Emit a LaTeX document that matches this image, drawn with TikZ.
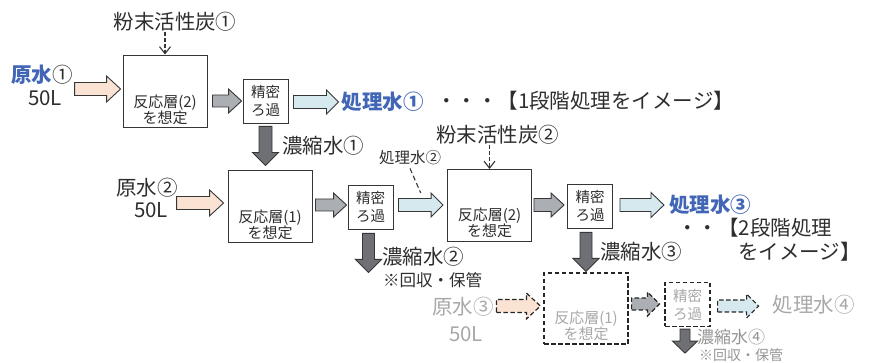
\documentclass[tikz,border=0pt]{standalone}
\usepackage{fontspec}
\setmainfont{Noto Sans CJK JP}
\usetikzlibrary{calc,arrows.meta}
\definecolor{txt}{HTML}{2E2E2E}
\definecolor{bluetxt}{HTML}{4266B6}
\definecolor{graytxt}{HTML}{A8A8A8}
\definecolor{graytxtb}{HTML}{959595}
\definecolor{peach}{HTML}{FBE3D4}
\definecolor{midgray}{HTML}{ABAEB3}
\definecolor{lblue}{HTML}{D5E9EE}
\definecolor{dkgray}{HTML}{6F7075}
\definecolor{edge}{HTML}{363636}
\tikzset{
  bigbox/.style={draw=edge, line width=0.9pt, minimum width=84pt, minimum height=72pt, inner sep=0pt, fill=white},
  filtbox/.style={draw=edge, line width=0.9pt, minimum width=45pt, minimum height=44pt, inner sep=0pt, align=center, font=\fontsize{14.5}{18}\selectfont, text=txt, fill=white},
  boxtext/.style={align=center, font=\fontsize{15}{16}\selectfont, text=txt, inner sep=0pt},
  lbl/.style={font=\fontsize{20.5}{24}\selectfont, text=txt, inner sep=0pt},
  bluelbl/.style={font=\fontsize{20.5}{24}\selectfont\bfseries, text=bluetxt, inner sep=0pt},
  graylbl/.style={font=\fontsize{20.5}{24}\selectfont, text=graytxt, inner sep=0pt},
  dsh/.style={dash pattern=on 4.5pt off 2.5pt, line width=1.2pt, draw=black!85},
  arrline/.style={draw=edge, line width=0.9pt, line join=miter},
  harrow/.style n args={4}{arrline, fill=#4, to path={($(\tikztostart)+(0,#1)$) -- ($(\tikztotarget)+(-#3,#1)$) -- ($(\tikztotarget)+(-#3,#2)$) -- (\tikztotarget) -- ($(\tikztotarget)+(-#3,-#2)$) -- ($(\tikztotarget)+(-#3,-#1)$) -- ($(\tikztostart)+(0,-#1)$) -- cycle}},
  varrow/.style n args={4}{arrline, fill=#4, to path={($(\tikztostart)+(#1,0)$) -- ($(\tikztotarget)+(#1,-#3)$) -- ($(\tikztotarget)+(#2,-#3)$) -- (\tikztotarget) -- ($(\tikztotarget)+(-#2,-#3)$) -- ($(\tikztotarget)+(-#1,-#3)$) -- ($(\tikztostart)+(-#1,0)$) -- cycle}},
  pacarrow/.style={draw=edge, line width=1.1pt, dash pattern=on 4pt off 2pt, -{Straight Barb[length=7pt,width=11pt,line width=1.1pt]}},
}
\begin{document}
\begin{tikzpicture}[x=1pt,y=-1pt]
\useasboundingbox (0,0) rectangle (871,363);

% ---------- row 1 ----------
\node[lbl] (pac1) at (175,22) {粉末活性炭①};
\node[bigbox] (r1) at (165,91) {};
\node[boxtext] (r1t) at (165,110) {反応層(2)\\を想定};
\node[filtbox] (f1) at (265.5,101) {精密\\ろ過};
\node[bluelbl] (raw1) at (42,75) {原水{\mdseries\color{txt}①}};
\node[lbl] (vol1) at (45,98) {50L};
\draw[pacarrow] (pac1.south -| r1.north) -- (r1.north);

\coordinate (o1e) at ($(r1.west)+(-2,-2)$);
\coordinate (o1s) at ($(o1e)+(-46,0)$);
\draw[harrow={6.5}{13}{14}{peach}] (o1s) to (o1e);

\coordinate (g1s) at ($(r1.east |- f1.west)+(5,0)$);
\coordinate (g1e) at ($(f1.west)+(-1,0)$);
\draw[harrow={6}{12}{13}{midgray}] (g1s) to (g1e);

\coordinate (b1s) at ($(f1.east)+(5,1)$);
\coordinate (b1e) at ($(b1s)+(45,0)$);
\draw[harrow={6.5}{12}{12}{lblue}] (b1s) to (b1e);
\node[bluelbl, anchor=west] (out1) at ($(b1e)+(3,0)$) {処理水①};
\node[lbl, anchor=west] (note1) at ($(out1.east)+(12,-1)$) {・・・【1段階処理をイメージ】};

% ---------- row 2 ----------
\node[bigbox] (r2) at (270,206) {};
\node[boxtext] (r2t) at (270,225) {反応層(1)\\を想定};
\node[filtbox] (f2) at (370.5,207) {精密\\ろ過};
\node[lbl] (raw2) at (147,188) {原水②};
\node[lbl] (vol2) at (151,210) {50L};

\coordinate (d1s) at ($(f1.south)+(0,3)$);
\coordinate (d1e) at ($(f1.south |- r2.north)+(0,-4)$);
\draw[varrow={6.5}{13}{13}{dkgray}] (d1s) to (d1e);
\node[lbl, anchor=west] (conc1) at (282,146) {濃縮水①};

\coordinate (o2e) at ($(r2.west)+(-4,-3)$);
\coordinate (o2s) at ($(o2e)+(-47,0)$);
\draw[harrow={6.5}{13}{14}{peach}] (o2s) to (o2e);

\coordinate (g2s) at ($(r2.east)+(3,-1)$);
\coordinate (g2e) at ($(f2.west)+(-1,-2)$);
\draw[harrow={6}{12}{13}{midgray}] (g2s) to (g2e);

\node[bigbox] (r3) at (489.5,205.5) {};
\node[boxtext] (r3t) at (489.5,223) {反応層(2)\\を想定};
\node[lbl] (pac2) at (497.5,135) {粉末活性炭②};
\draw[pacarrow] (pac2.south -| r3.north) -- (r3.north);

\coordinate (b2s) at ($(f2.east)+(5,-2)$);
\coordinate (b2e) at ($(r3.west)+(-4,-0.5)$);
\draw[harrow={6.5}{12}{12}{lblue}] (b2s) to (b2e);
\node[font=\fontsize{15.5}{18}\selectfont, text=txt, inner sep=0pt] (out2) at (410,158) {処理水②};
\coordinate (c2) at ($(b2s)!0.5!(b2e)+(0,-12)$);
\draw[draw=edge, line width=1.1pt, dash pattern=on 5pt off 3pt] ($(out2.south)+(0,3)$) -- (c2);

\coordinate (d2s) at ($(f2.south)+(-2,4)$);
\coordinate (d2e) at ($(d2s)+(0,39)$);
\draw[varrow={6}{13}{13}{dkgray}] (d2s) to (d2e);
\node[lbl, anchor=west] (conc2) at (382,257) {濃縮水②};
\node[font=\fontsize{16.5}{18}\selectfont, text=txt, inner sep=0pt, anchor=west] (keep2) at (383,280) {※回収・保管};

\node[filtbox] (f3) at (590,206) {精密\\ろ過};
\coordinate (g3s) at ($(r3.east)+(2,-0.5)$);
\coordinate (g3e) at ($(f3.west)+(-3,-1)$);
\draw[harrow={6.5}{12}{13}{midgray}] (g3s) to (g3e);

\coordinate (b3s) at ($(f3.east)+(7,-1)$);
\coordinate (b3e) at ($(b3s)+(44,0)$);
\draw[harrow={6.5}{12.5}{13}{lblue}] (b3s) to (b3e);
\node[bluelbl, anchor=west] (out3) at ($(b3e)+(5,0)$) {処理水③};
\node[lbl, anchor=west] (note3a) at (677,228) {・・【2段階処理};
\node[lbl, anchor=west] (note3b) at (738,252) {をイメージ】};

% ---------- row 3 (dashed) ----------
\node[bigbox, dsh, minimum height=71pt] (r4) at (586,308.5) {};
\node[boxtext, text=graytxt] (r4t) at (586,325.5) {反応層(1)\\を想定};
\node[filtbox, dsh, text=graytxt] (f4) at (687.5,304.5) {精密\\ろ過};
\node[graylbl] (raw3) at (463,307) {原水③};
\node[graylbl] (vol3) at (466,334) {50L};

\coordinate (d3s) at ($(f3.south)+(-4,4)$);
\coordinate (d3e) at ($(d3s |- r4.north)+(0,-1)$);
\draw[varrow={6}{13}{13}{dkgray}] (d3s) to (d3e);
\node[lbl, anchor=west] (conc3) at (600,252) {濃縮水③};

\coordinate (o3e) at ($(r4.west)+(-3,-2.5)$);
\coordinate (o3s) at ($(o3e)+(-44,0)$);
\draw[harrow={6.5}{13}{14}{peach}, dsh] (o3s) to (o3e);

\coordinate (g4s) at ($(r4.east)+(3,-4.5)$);
\coordinate (g4e) at ($(f4.west)+(-5,-0.5)$);
\draw[harrow={6}{12}{12}{midgray}, dsh] (g4s) to (g4e);

\coordinate (b4s) at ($(f4.east)+(7,1.5)$);
\coordinate (b4e) at ($(b4s)+(41,0)$);
\draw[harrow={6}{12}{12}{lblue}, dsh] (b4s) to (b4e);
\node[graylbl, anchor=west] (out4) at ($(b4e)+(14,-1)$) {処理水④};

\coordinate (d4s) at ($(f4.south)+(-2.5,2)$);
\coordinate (d4e) at ($(d4s)+(0,24)$);
\draw[varrow={5}{12.5}{12}{dkgray}] (d4s) to (d4e);
\node[font=\fontsize{17}{20}\selectfont, text=graytxtb, inner sep=0pt, anchor=west] (conc4) at (697,337) {濃縮水④};
\node[font=\fontsize{14}{16}\selectfont, text=graytxtb, inner sep=0pt, anchor=west] (keep4) at (699,355) {※回収・保管};
\end{tikzpicture}
\end{document}
